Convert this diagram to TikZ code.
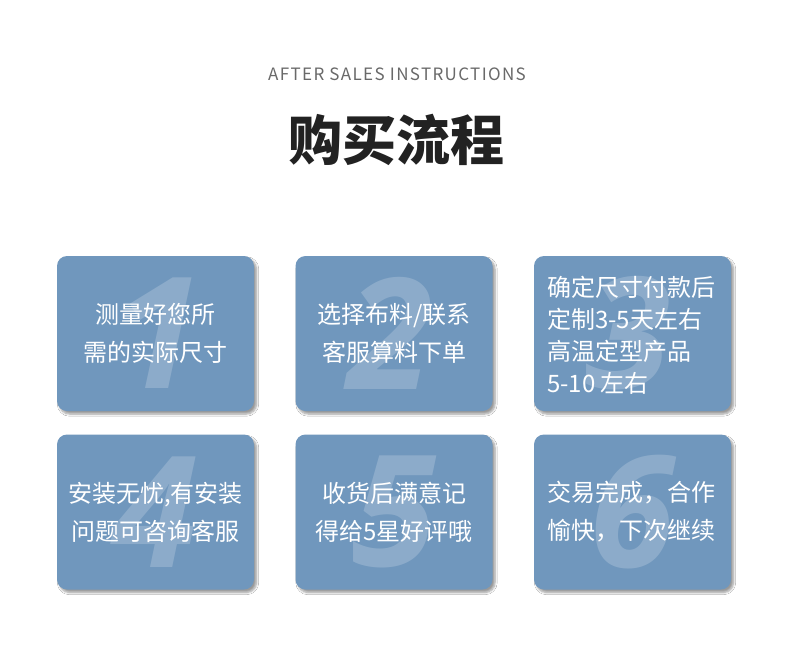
\documentclass[tikz,border=0pt]{standalone}
\usepackage{fontspec}
\setmainfont{Noto Sans CJK SC}
\newfontfamily\numfont{Open Sans}
\newfontfamily\subfont[LetterSpace=8]{Noto Sans CJK SC}
\usetikzlibrary{calc,shadows.blur}
\definecolor{cardblue}{RGB}{112,151,189}
\definecolor{subgray}{RGB}{105,105,105}
\definecolor{headblack}{RGB}{34,34,34}
\tikzset{card/.style={fill=cardblue,rounded corners=10pt,minimum width=197pt,minimum height=155pt,inner sep=0pt,blur shadow={shadow xshift=2.5pt,shadow yshift=-3pt,shadow blur steps=6,shadow opacity=40}},
bignum/.style={font=\numfont\bfseries\itshape\fontsize{155}{155}\selectfont,text=white,text opacity=.2,inner sep=0pt},
cardtext/.style={font=\fontsize{24}{38}\selectfont,text=white,align=center,inner sep=0pt},
cardleft/.style={cardtext,align=left,anchor=west}}

\begin{document}
\begin{tikzpicture}[x=1pt,y=-1pt]
\useasboundingbox[fill=white](0,0)rectangle(790,664);
\node[text=subgray,font=\subfont\fontsize{17}{17}\selectfont](sub)at(397,74){AFTER SALES INSTRUCTIONS};
\node[text=headblack,font=\bfseries\fontsize{54}{54}\selectfont](head)at(396,140){购买流程};
% first row
\node[card](b1)at(155.5,333.5){};\node[bignum](n1)at($(b1)+(4,0)$){1};\node[cardtext](t1)at(b1){测量好您所\\需的实际尺寸};
\node[card](b2)at(394,333.5){};\node[bignum](n2)at($(b2)+(-4,0)$){2};\node[cardtext](t2)at(b2){选择布料/联系\\客服算料下单};
\node[card](b3)at(632.5,333.5){};\node[bignum](n3)at($(b3)+(-4,0)$){3};\node[cardleft,font=\fontsize{24}{32}\selectfont](t3)at(547,335){确定尺寸付款后\\定制3-5天左右\\高温定型产品\\5-10 左右};
% second row
\node[card](b4)at(155.5,512){};\node[bignum](n4)at(b4){4};\node[cardtext](t4)at(b4){安装无忧,有安装\\问题可咨询客服};
\node[card](b5)at(394,512){};\node[bignum](n5)at(b5){5};\node[cardtext](t5)at(b5){收货后满意记\\得给5星好评哦};
\node[card](b6)at(632.5,512){};\node[bignum](n6)at(b6){6};\node[cardleft](t6)at(547,512){交易完成，合作\\愉快，下次继续};
\end{tikzpicture}
\end{document}
